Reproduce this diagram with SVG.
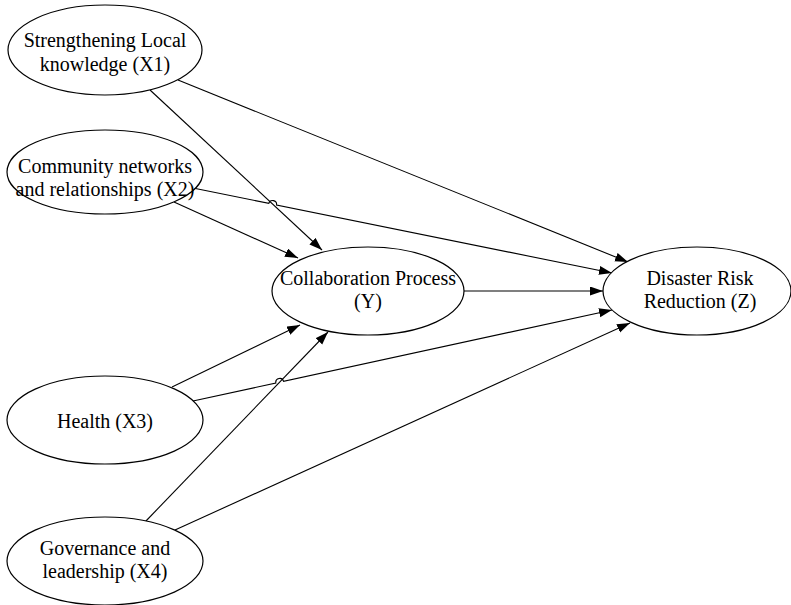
<svg xmlns="http://www.w3.org/2000/svg" width="791" height="605" viewBox="0 0 791 605">
<style>
.node ellipse{fill:#fff;stroke:#000;stroke-width:1.2}
.node text{font-family:"Liberation Serif","Times New Roman",serif;font-size:20px;fill:#000;text-anchor:middle}
.edges path{fill:none;stroke:#000;stroke-width:1.1;marker-end:url(#arr)}
</style>
<defs>
<marker id="arr" markerUnits="userSpaceOnUse" markerWidth="14" markerHeight="10" refX="13" refY="4.5" orient="auto">
<path d="M0,0 L13,4.5 L0,9 z" fill="#000"/>
</marker>
</defs>
<rect width="791" height="605" fill="#fff"/>
<g class="edges" id="connectors">
<path d="M150,90 L322,250"/>
<path d="M178,80 L628,262"/>
<path d="M174,202 L298,258"/>
<path d="M193,188 L268.8,203.4 A4,4 0 0 1 276.6,205 L612,273"/>
<path d="M464,291 L603,291"/>
<path d="M172,387 L300,325"/>
<path d="M193,401 L275.8,383.05 A4,4 0 0 1 283.6,381.35 L612,310"/>
<path d="M145,522 L328,332"/>
<path d="M175,530 L630,323"/>
</g>
<g class="node" id="x1"><ellipse cx="105" cy="50" rx="97" ry="45"/><text x="105" y="47">Strengthening Local</text><text x="105" y="71">knowledge (X1)</text></g>
<g class="node" id="x2"><ellipse cx="105" cy="172" rx="98" ry="42"/><text x="105" y="173">Community networks</text><text x="105" y="196">and relationships (X2)</text></g>
<g class="node" id="y"><ellipse cx="368" cy="291" rx="96" ry="44"/><text x="368" y="285">Collaboration Process</text><text x="368" y="308">(Y)</text></g>
<g class="node" id="z"><ellipse cx="697" cy="291" rx="94" ry="44"/><text x="700" y="285">Disaster Risk</text><text x="700" y="308">Reduction (Z)</text></g>
<g class="node" id="x3"><ellipse cx="105" cy="420" rx="98" ry="44"/><text x="105" y="428">Health (X3)</text></g>
<g class="node" id="x4"><ellipse cx="105" cy="561" rx="98" ry="44"/><text x="105" y="555">Governance and</text><text x="105" y="578">leadership (X4)</text></g>
</svg>
